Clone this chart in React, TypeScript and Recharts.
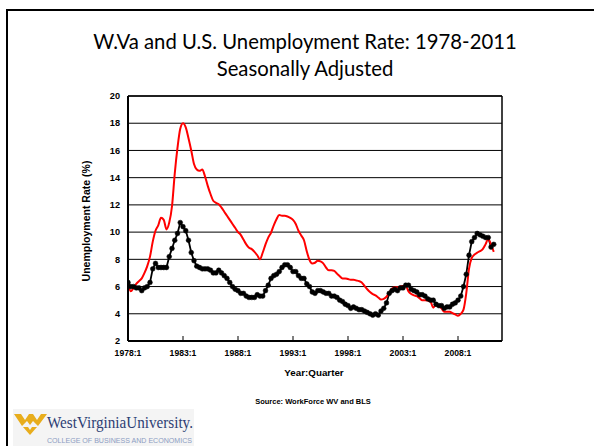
import React from 'react';
import { LineChart, Line, XAxis, YAxis, CartesianGrid, ReferenceLine } from 'recharts';

const startYear = 1978;

// U.S. unemployment rate, quarterly, 1978:1 - 2011:2
const usRate = [
  6.3, 6.0, 6.0, 5.9,
  5.9, 5.7, 5.9, 6.0,
  6.3, 7.3, 7.7, 7.4,
  7.4, 7.4, 7.4, 8.2,
  8.8, 9.4, 9.9, 10.7,
  10.4, 10.1, 9.4, 8.5,
  7.9, 7.5, 7.4, 7.3,
  7.3, 7.3, 7.2, 7.0,
  7.0, 7.2, 7.0, 6.8,
  6.6, 6.3, 6.0, 5.8,
  5.7, 5.5, 5.5, 5.3,
  5.2, 5.2, 5.2, 5.4,
  5.3, 5.3, 5.7, 6.1,
  6.6, 6.8, 6.9, 7.1,
  7.4, 7.6, 7.6, 7.4,
  7.1, 7.1, 6.8, 6.6,
  6.6, 6.2, 6.0, 5.6,
  5.5, 5.7, 5.7, 5.6,
  5.5, 5.5, 5.3, 5.3,
  5.2, 5.0, 4.9, 4.7,
  4.6, 4.4, 4.5, 4.4,
  4.3, 4.3, 4.2, 4.1,
  4.0, 3.9, 4.0, 3.9,
  4.2, 4.4, 4.8, 5.5,
  5.7, 5.8, 5.7, 5.9,
  5.9, 6.1, 6.1, 5.8,
  5.7, 5.6, 5.4, 5.4,
  5.3, 5.1, 5.0, 5.0,
  4.7, 4.6, 4.6, 4.4,
  4.5, 4.5, 4.7, 4.8,
  5.0, 5.3, 6.0, 6.9,
  8.3, 9.3, 9.6, 9.9,
  9.8, 9.7, 9.6, 9.6,
  8.9, 9.1,
];

// West Virginia unemployment rate, quarterly, 1978:1 - 2011:2
const wvRate = [
  6.3, 5.65, 5.9, 6.2,
  6.4, 6.6, 7.0, 7.5,
  8.2, 9.3, 10.1, 10.5,
  11.05, 10.9, 10.2, 10.7,
  11.9, 14.3, 16.2, 17.6,
  18.0, 17.7, 16.9, 16.0,
  15.0, 14.6, 14.5, 14.6,
  14.1, 13.4, 12.8, 12.3,
  12.15, 12.05, 11.8, 11.5,
  11.2, 10.9, 10.6, 10.3,
  10.0, 9.8, 9.45, 9.1,
  8.85, 8.75, 8.55, 8.3,
  8.0, 8.5, 9.1, 9.6,
  9.95, 10.5, 10.95, 11.25,
  11.2, 11.2, 11.15, 11.05,
  10.9, 10.6, 10.1, 9.75,
  9.4, 8.6, 7.95, 7.7,
  7.75, 7.9, 7.85, 7.7,
  7.4, 7.2, 7.2, 7.15,
  6.95, 6.75, 6.6, 6.6,
  6.55, 6.5, 6.5, 6.45,
  6.4, 6.3, 6.05, 5.8,
  5.6, 5.45, 5.35, 5.2,
  5.05, 5.1, 5.25, 5.55,
  5.85, 5.95, 5.95, 6.0,
  6.05, 6.05, 5.65, 5.45,
  5.35, 5.3, 5.15, 5.0,
  5.0, 4.98, 4.9, 4.45,
  4.65, 4.55, 4.4, 4.15,
  4.15, 4.15, 4.05, 3.95,
  3.85, 4.0, 4.3, 5.5,
  7.3, 8.1, 8.35, 8.5,
  8.6, 8.75, 9.1, 9.5,
  9.1, 8.55,
];

const xTicks = [0, 20, 40, 60, 80, 100, 120];
const yTicks = [2, 4, 6, 8, 10, 12, 14, 16, 18, 20];

const quarterLabel = (i: number) => `${startYear + Math.floor(i / 4)}:${(i % 4) + 1}`;

const data = usRate.map((us, i) => ({ q: i, us, wv: wvRate[i] }));

const AXIS_FONT = "'Liberation Sans', Arial, sans-serif";

const XTick = (props: any) => {
  const { x, y, payload } = props;
  return (
    <g>
      {payload.value !== 0 && (
        <line x1={x} x2={x} y1={y} y2={y - 5} stroke="#000" strokeWidth={1} />
      )}
      <text
        x={x}
        y={y + 8.5}
        dy="0.71em"
        textAnchor="middle"
        fontFamily={AXIS_FONT}
        fontWeight="bold"
        fontSize={8.6}
        fill="#000"
      >
        {quarterLabel(payload.value)}
      </text>
    </g>
  );
};

export default function App() {
  return (
    <div style={{ position: 'absolute', left: 0, top: 0, width: 594, height: 446, background: '#fff', overflow: 'hidden' }}>
      <div
        style={{
          position: 'absolute',
          left: 6,
          top: 9,
          width: 700,
          height: 600,
          border: '2.5px solid #000',
          boxSizing: 'border-box',
        }}
      />
      <div style={{ position: 'absolute', left: 0, top: 0 }}>
        <LineChart width={594} height={446} data={data} margin={{ top: 96, right: 92, bottom: 75, left: 88 }}>
          <CartesianGrid vertical={false} stroke="#000" strokeWidth={1} horizontalValues={yTicks} />
          <XAxis
            dataKey="q"
            type="number"
            domain={[0, 136]}
            ticks={xTicks}
            tick={<XTick />}
            tickSize={0}
            tickMargin={0}
            tickLine={false}
            height={30}
            axisLine={{ stroke: '#000', strokeWidth: 2 }}
            allowDataOverflow
          />
          <YAxis
            type="number"
            domain={[2, 20]}
            ticks={yTicks}
            width={40}
            tickSize={0}
            tickMargin={8}
            tickLine={false}
            axisLine={{ stroke: '#000', strokeWidth: 2 }}
            tick={{ fontFamily: AXIS_FONT, fontWeight: 'bold', fontSize: 9.2, fill: '#000' }}
            allowDataOverflow
          />
          <ReferenceLine x={136} stroke="#000" strokeWidth={1.5} />
          <ReferenceLine y={20} stroke="#000" strokeWidth={1.5} />
          <Line
            type="linear"
            dataKey="us"
            stroke="#000"
            strokeWidth={1.8}
            dot={{ r: 2.4, fill: '#000', stroke: '#000', strokeWidth: 0.5 }}
            isAnimationActive={false}
          />
          <Line
            type="monotone"
            dataKey="wv"
            stroke="#ff0000"
            strokeWidth={2}
            dot={false}
            isAnimationActive={false}
          />
        </LineChart>
      </div>
      <svg width={594} height={446} style={{ position: 'absolute', left: 0, top: 0, pointerEvents: 'none' }}>
        <text x={305} y={49} textAnchor="middle" fontFamily="Lato, 'Open Sans', sans-serif" fontSize={20.3} fill="#000">
          W.Va and U.S. Unemployment Rate: 1978-2011
        </text>
        <text x={305} y={76} textAnchor="middle" fontFamily="Lato, 'Open Sans', sans-serif" fontSize={20.3} fill="#000">
          Seasonally Adjusted
        </text>
        <text
          x={86}
          y={221}
          transform="rotate(-90 86 221)"
          textAnchor="middle"
          dominantBaseline="central"
          fontFamily={AXIS_FONT}
          fontWeight="bold"
          fontSize={10.5}
          fill="#000"
        >
          Unemployment Rate (%)
        </text>
        <text x={314} y={375.5} textAnchor="middle" fontFamily={AXIS_FONT} fontWeight="bold" fontSize={9.8} fill="#000">
          Year:Quarter
        </text>
        <text x={313} y={404} textAnchor="middle" fontFamily={AXIS_FONT} fontWeight="bold" fontSize={7.5} fill="#000">
          Source: WorkForce WV and BLS
        </text>
        <rect x={13} y={409} width={181} height={37} fill="#f4f4f4" />
        <polygon
          points="14,414 21,414 25,420 29,414 33,414 37,420 41,414 47,414 38,426 33,421 30,425 27,421 22,426"
          fill="#e8ad1c"
        />
        <polygon points="23,427 28,427 30,430 32,427 37,427 30,435" fill="#e8ad1c" />
        <text
          x={47}
          y={428}
          fontFamily="'Liberation Serif', 'DejaVu Serif', serif"
          fontSize={17}
          fill="#2e3f74"
          textLength={146}
          lengthAdjust="spacingAndGlyphs"
        >
          WestVirginiaUniversity.
        </text>
        <text
          x={47}
          y={443}
          fontFamily={AXIS_FONT}
          fontSize={6.5}
          fill="#8c9cc2"
          textLength={145}
          lengthAdjust="spacingAndGlyphs"
        >
          COLLEGE OF BUSINESS AND ECONOMICS
        </text>
      </svg>
    </div>
  );
}
